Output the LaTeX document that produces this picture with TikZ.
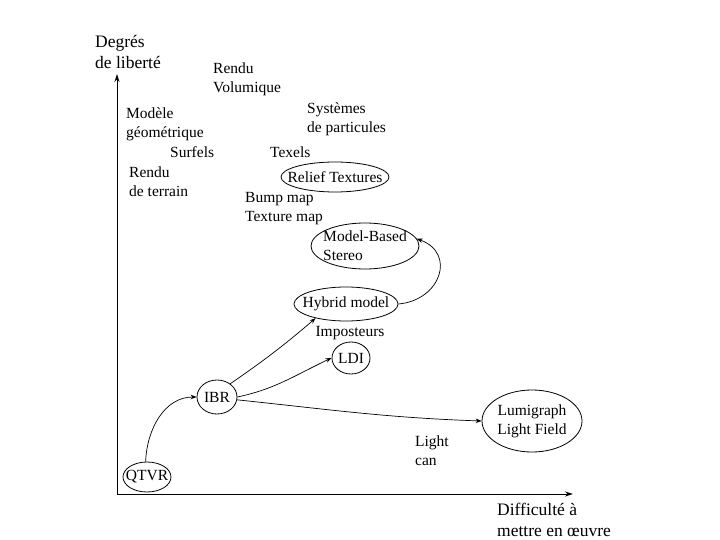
\documentclass[tikz,border=0pt]{standalone}
\usepackage{fontspec}
\setmainfont{Liberation Serif}
\usetikzlibrary{shapes.geometric,arrows.meta}
\begin{document}
\begin{tikzpicture}[x=1pt,y=-1pt,
  every node/.style={font=\fontsize{15.5}{19}\selectfont},
  lbl/.style={anchor=west,align=left,inner sep=0pt},
  axlbl/.style={anchor=west,align=left,inner sep=0pt,font=\fontsize{17.5}{21}\selectfont},
  ell/.style={draw,ellipse,inner xsep=-12pt,inner ysep=-2pt,line width=0.8pt},
  arr/.style={-{Stealth[length=6pt,width=4.5pt]},line width=0.7pt},
  axis/.style={-{Stealth[length=8pt,width=5pt]},line width=0.9pt}]
\useasboundingbox (0,0) rectangle (720,540);
% axes
\coordinate (o) at (117,494);
\coordinate (ytop) at (117,74);
\coordinate (xend) at (573,494);
\draw[axis] (o) -- (ytop);
\draw[axis] (o) -- (xend);
\node[axlbl] (ylab) at (95,52) {Degrés\\de liberté};
\node[axlbl] (xlab) at (497,520) {Difficulté à\\mettre en œuvre};
% labels
\node[lbl] (rv) at (213,79) {Rendu\\Volumique};
\node[lbl] (mg) at (126,124) {Modèle\\géométrique};
\node[lbl] (sp) at (307,119) {Systèmes\\de particules};
\node[lbl] (surf) at (170,152) {Surfels};
\node[lbl] (tex) at (270,152) {Texels};
\node[lbl] (rt) at (129,182) {Rendu\\de terrain};
\node[lbl] (bm) at (245,209) {Bump map\\Texture map};
\node[inner sep=0pt] (imp) at (350,333) {Imposteurs};
\node[lbl] (lc) at (415,451) {Light\\can};
% nodes
\node[ell,minimum width=48pt,minimum height=30pt] (qtvr) at (147,477) {QTVR};
\node[ell,minimum width=40pt,minimum height=34pt] (ibr) at (217,397) {IBR};
\node[ell,minimum width=38pt,minimum height=32pt] (ldi) at (351,358) {LDI};
\node[ell,minimum width=104pt,minimum height=34pt] (hyb) at (346,304) {Hybrid model};
\node[ell,minimum width=108pt,minimum height=46pt,align=left] (mbs) at (365,246) {Model-Based\\Stereo};
\node[ell,minimum width=108pt,minimum height=30pt] (relief) at (335,177) {Relief Textures};
\node[ell,minimum width=100pt,minimum height=62pt,align=center] (lumi) at (532,421) {Lumigraph\\Light Field};
% edges
\draw[arr] (qtvr.95) to[out=88,in=180] (ibr.west);
\draw[arr] (ibr.45) to[bend right=3] (hyb.205);
\draw[arr] (ibr.east) to[out=12,in=205] (ldi.west);
\draw[arr] (ibr.-8) to[out=-6,in=178] (lumi.west);
\draw[arr] (hyb.east) to[out=5,in=-20,looseness=1.6] (mbs.8);
\end{tikzpicture}
\end{document}
